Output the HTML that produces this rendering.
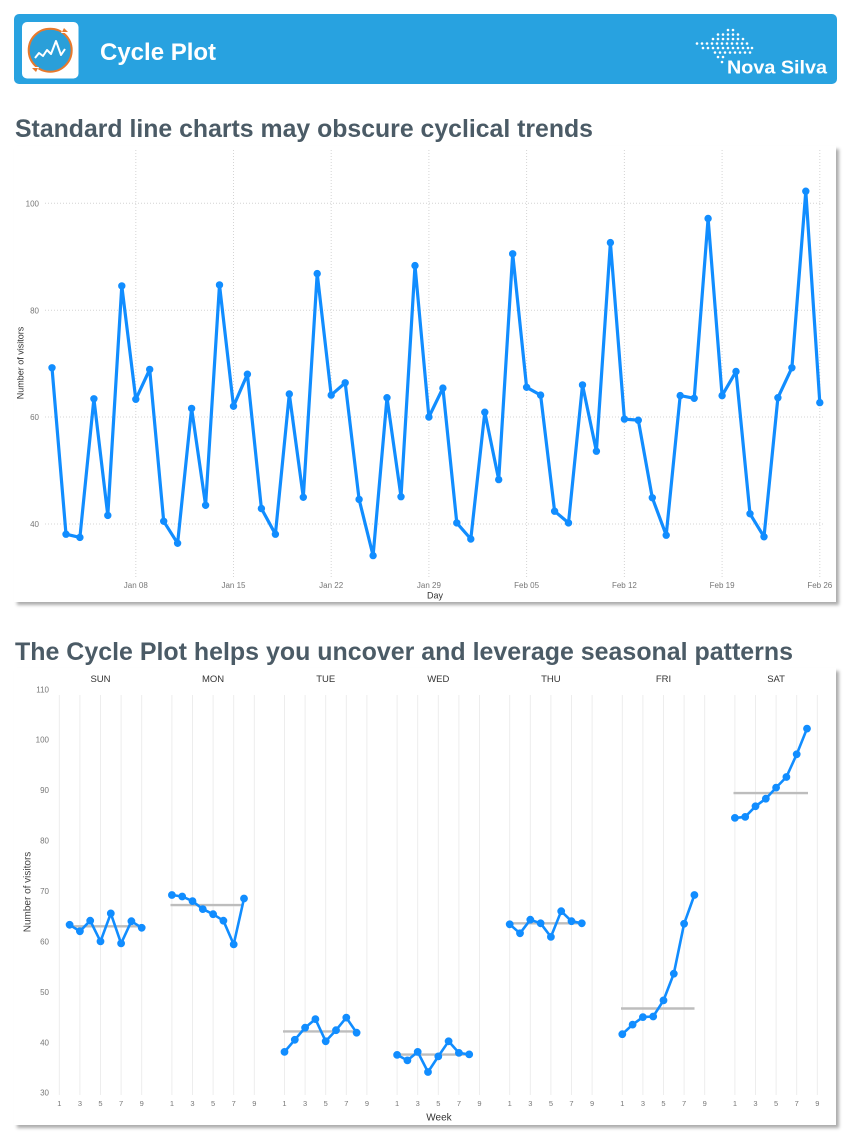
<!DOCTYPE html>
<html>
<head>
<meta charset="utf-8">
<style>
  html, body { margin: 0; padding: 0; background: #ffffff; }
  body { width: 852px; height: 1148px; overflow: hidden; }
  svg { display: block; }
  text { font-family: "Liberation Sans", "DejaVu Sans", sans-serif; }
</style>
</head>
<body>
<svg width="852" height="1148" viewBox="0 0 852 1148" xmlns="http://www.w3.org/2000/svg">
  <defs>
    <filter id="sh" x="-5%" y="-5%" width="110%" height="110%">
      <feDropShadow dx="3" dy="3" stdDeviation="1.5" flood-color="#000" flood-opacity="0.33"/>
    </filter>
  </defs>

  <!-- Header -->
  <rect x="14" y="14" width="823" height="70" rx="5" fill="#28a2e0"/>
  <rect x="22" y="22" width="56.5" height="56.5" rx="5" fill="#ffffff"/>
  <circle cx="50.2" cy="50.2" r="21.5" fill="#2a9fd9" stroke="#e8792c" stroke-width="2"/>
  <polyline points="35,58 39,53 43,56 47,50 51,54 56,41 61,55 65,49" fill="none" stroke="#ffffff" stroke-width="2" stroke-linejoin="round"/>
  <polygon points="64,26 69,33 61,33" fill="#ffffff"/>
  <polygon points="64,28 68,32 62,32" fill="#e8792c"/>
  <polygon points="36,74 31,67 39,67" fill="#ffffff"/>
  <polygon points="36,72 32,68 38,68" fill="#e8792c"/>
  <text x="100" y="60" font-size="24" font-weight="bold" fill="#ffffff">Cycle Plot</text>

  <!-- Nova Silva logo dots -->
  <g fill="#ffffff">
    <circle cx="728" cy="30" r="1.3"/><circle cx="733" cy="30" r="1.3"/>
    <circle cx="718" cy="34.5" r="1.3"/><circle cx="723" cy="34.5" r="1.3"/><circle cx="728" cy="34.5" r="1.3"/><circle cx="733" cy="34.5" r="1.3"/><circle cx="738" cy="34.5" r="1.3"/>
    <circle cx="713" cy="39" r="1.3"/><circle cx="718" cy="39" r="1.3"/><circle cx="723" cy="39" r="1.3"/><circle cx="728" cy="39" r="1.3"/><circle cx="733" cy="39" r="1.3"/><circle cx="738" cy="39" r="1.3"/><circle cx="743" cy="39" r="1.3"/>
    <circle cx="697" cy="43.5" r="1.3"/><circle cx="702" cy="43.5" r="1.3"/><circle cx="707" cy="43.5" r="1.3"/><circle cx="712" cy="43.5" r="1.3"/><circle cx="717" cy="43.5" r="1.3"/><circle cx="722" cy="43.5" r="1.3"/><circle cx="727" cy="43.5" r="1.3"/><circle cx="732" cy="43.5" r="1.3"/><circle cx="737" cy="43.5" r="1.3"/><circle cx="742" cy="43.5" r="1.3"/><circle cx="747" cy="43.5" r="1.3"/>
    <circle cx="703" cy="48" r="1.3"/><circle cx="708" cy="48" r="1.3"/><circle cx="713" cy="48" r="1.3"/><circle cx="718" cy="48" r="1.3"/><circle cx="723" cy="48" r="1.3"/><circle cx="728" cy="48" r="1.3"/><circle cx="733" cy="48" r="1.3"/><circle cx="738" cy="48" r="1.3"/><circle cx="743" cy="48" r="1.3"/><circle cx="748" cy="48" r="1.3"/><circle cx="752" cy="48" r="1.3"/>
    <circle cx="715" cy="52.5" r="1.3"/><circle cx="720" cy="52.5" r="1.3"/><circle cx="725" cy="52.5" r="1.3"/><circle cx="730" cy="52.5" r="1.3"/><circle cx="735" cy="52.5" r="1.3"/><circle cx="740" cy="52.5" r="1.3"/><circle cx="745" cy="52.5" r="1.3"/><circle cx="750" cy="52.5" r="1.3"/>
    <circle cx="718" cy="57" r="1.3"/><circle cx="723" cy="57" r="1.3"/>
    <circle cx="722" cy="62" r="1.3"/>
  </g>
  <text x="727" y="73.5" font-size="18" font-weight="bold" fill="#ffffff" textLength="100" lengthAdjust="spacingAndGlyphs">Nova Silva</text>

  <!-- Titles -->
  <text x="15" y="137" font-size="25" font-weight="bold" fill="#4b5b66" textLength="578" lengthAdjust="spacingAndGlyphs">Standard line charts may obscure cyclical trends</text>
  <text x="15" y="660" font-size="25" font-weight="bold" fill="#4b5b66" textLength="778" lengthAdjust="spacingAndGlyphs">The Cycle Plot helps you uncover and leverage seasonal patterns</text>

  <!-- Cards -->
  <rect x="14" y="146" width="822" height="456" fill="#ffffff" filter="url(#sh)"/>
  <rect x="14" y="668" width="822" height="457" fill="#ffffff" filter="url(#sh)"/>

  <!-- ===== Top chart ===== -->
  <g stroke="#d4d4d4" stroke-width="1" stroke-dasharray="1,2" fill="none">
    <line x1="45" y1="203.3" x2="823" y2="203.3"/>
    <line x1="45" y1="310.3" x2="823" y2="310.3"/>
    <line x1="45" y1="417" x2="823" y2="417"/>
    <line x1="45" y1="524" x2="823" y2="524"/>
    <line x1="135.8" y1="150" x2="135.8" y2="578"/>
    <line x1="233.5" y1="150" x2="233.5" y2="578"/>
    <line x1="331.2" y1="150" x2="331.2" y2="578"/>
    <line x1="428.9" y1="150" x2="428.9" y2="578"/>
    <line x1="526.6" y1="150" x2="526.6" y2="578"/>
    <line x1="624.4" y1="150" x2="624.4" y2="578"/>
    <line x1="722.1" y1="150" x2="722.1" y2="578"/>
    <line x1="819.8" y1="150" x2="819.8" y2="578"/>
  </g>
  <g font-size="8" fill="#777" text-anchor="end">
    <text x="39" y="206.3">100</text>
    <text x="39" y="313.3">80</text>
    <text x="39" y="420">60</text>
    <text x="39" y="527">40</text>
  </g>
  <g font-size="8" fill="#777" text-anchor="middle">
    <text x="135.8" y="588">Jan 08</text>
    <text x="233.5" y="588">Jan 15</text>
    <text x="331.2" y="588">Jan 22</text>
    <text x="428.9" y="588">Jan 29</text>
    <text x="526.6" y="588">Feb 05</text>
    <text x="624.4" y="588">Feb 12</text>
    <text x="722.1" y="588">Feb 19</text>
    <text x="819.8" y="588">Feb 26</text>
  </g>
  <text x="435" y="598.5" font-size="9" fill="#333" text-anchor="middle">Day</text>
  <text transform="translate(23.5,363) rotate(-90)" font-size="9" fill="#333" text-anchor="middle">Number of visitors</text>

  <polyline fill="none" stroke="#118dff" stroke-width="3.2" stroke-linejoin="round" points="52.0,367.8 66.0,534.2 79.9,537.4 93.9,398.8 107.8,515.4 121.8,285.9 135.8,399.3 149.7,369.4 163.7,521.3 177.6,543.3 191.6,408.4 205.6,505.3 219.5,284.9 233.5,406.3 247.4,374.2 261.4,508.5 275.4,534.2 289.3,394.0 303.3,497.3 317.2,273.6 331.2,395.1 345.2,382.8 359.1,499.4 373.1,555.6 387.0,397.7 401.0,496.7 415.0,265.6 428.9,417.0 442.9,388.1 456.8,522.9 470.8,539.0 484.8,412.2 498.7,479.6 512.7,253.8 526.6,387.3 540.6,395.1 554.6,511.2 568.5,522.9 582.5,384.9 596.4,451.2 610.4,242.6 624.4,419.1 638.3,420.2 652.3,497.8 666.2,535.2 680.2,395.6 694.2,398.3 708.1,218.5 722.1,395.6 736.0,371.5 750.0,513.8 764.0,536.8 777.9,397.7 791.9,367.8 805.8,191.2 819.8,402.6"/>
  <path fill="none" stroke="#118dff" stroke-width="7.4" stroke-linecap="round" d="M52.0,367.8h0M66.0,534.2h0M79.9,537.4h0M93.9,398.8h0M107.8,515.4h0M121.8,285.9h0M135.8,399.3h0M149.7,369.4h0M163.7,521.3h0M177.6,543.3h0M191.6,408.4h0M205.6,505.3h0M219.5,284.9h0M233.5,406.3h0M247.4,374.2h0M261.4,508.5h0M275.4,534.2h0M289.3,394.0h0M303.3,497.3h0M317.2,273.6h0M331.2,395.1h0M345.2,382.8h0M359.1,499.4h0M373.1,555.6h0M387.0,397.7h0M401.0,496.7h0M415.0,265.6h0M428.9,417.0h0M442.9,388.1h0M456.8,522.9h0M470.8,539.0h0M484.8,412.2h0M498.7,479.6h0M512.7,253.8h0M526.6,387.3h0M540.6,395.1h0M554.6,511.2h0M568.5,522.9h0M582.5,384.9h0M596.4,451.2h0M610.4,242.6h0M624.4,419.1h0M638.3,420.2h0M652.3,497.8h0M666.2,535.2h0M680.2,395.6h0M694.2,398.3h0M708.1,218.5h0M722.1,395.6h0M736.0,371.5h0M750.0,513.8h0M764.0,536.8h0M777.9,397.7h0M791.9,367.8h0M805.8,191.2h0M819.8,402.6h0"/>

  <!-- ===== Cycle plot ===== -->
  <g stroke="#ededed" stroke-width="1">
    <path d="M59.3,695V1095M79.9,695V1095M100.5,695V1095M121.1,695V1095M141.7,695V1095
             M171.9,695V1095M192.5,695V1095M213.1,695V1095M233.7,695V1095M254.3,695V1095
             M284.5,695V1095M305.1,695V1095M325.7,695V1095M346.3,695V1095M366.9,695V1095
             M397.1,695V1095M417.7,695V1095M438.3,695V1095M458.9,695V1095M479.5,695V1095
             M509.7,695V1095M530.3,695V1095M550.9,695V1095M571.5,695V1095M592.1,695V1095
             M622.3,695V1095M642.9,695V1095M663.5,695V1095M684.1,695V1095M704.7,695V1095
             M734.9,695V1095M755.5,695V1095M776.1,695V1095M796.7,695V1095M817.3,695V1095"/>
  </g>

  <g font-size="8" fill="#777" text-anchor="end">
    <text x="49" y="692.3">110</text>
    <text x="49" y="742.7">100</text>
    <text x="49" y="793.2">90</text>
    <text x="49" y="843.6">80</text>
    <text x="49" y="894">70</text>
    <text x="49" y="944.4">60</text>
    <text x="49" y="994.9">50</text>
    <text x="49" y="1045.3">40</text>
    <text x="49" y="1095.7">30</text>
  </g>
  <text transform="translate(30.5,892) rotate(-90)" font-size="10" fill="#444" text-anchor="middle">Number of visitors</text>

  <g font-size="9.5" fill="#333" text-anchor="middle">
    <text x="100.5" y="682">SUN</text>
    <text x="213.1" y="682">MON</text>
    <text x="325.7" y="682">TUE</text>
    <text x="438.3" y="682">WED</text>
    <text x="550.9" y="682">THU</text>
    <text x="663.5" y="682">FRI</text>
    <text x="776.1" y="682">SAT</text>
  </g>

  <g font-size="7.5" fill="#777" text-anchor="middle">
    <text x="59.3" y="1106">1</text><text x="79.9" y="1106">3</text><text x="100.5" y="1106">5</text><text x="121.1" y="1106">7</text><text x="141.7" y="1106">9</text>
    <text x="171.9" y="1106">1</text><text x="192.5" y="1106">3</text><text x="213.1" y="1106">5</text><text x="233.7" y="1106">7</text><text x="254.3" y="1106">9</text>
    <text x="284.5" y="1106">1</text><text x="305.1" y="1106">3</text><text x="325.7" y="1106">5</text><text x="346.3" y="1106">7</text><text x="366.9" y="1106">9</text>
    <text x="397.1" y="1106">1</text><text x="417.7" y="1106">3</text><text x="438.3" y="1106">5</text><text x="458.9" y="1106">7</text><text x="479.5" y="1106">9</text>
    <text x="509.7" y="1106">1</text><text x="530.3" y="1106">3</text><text x="550.9" y="1106">5</text><text x="571.5" y="1106">7</text><text x="592.1" y="1106">9</text>
    <text x="622.3" y="1106">1</text><text x="642.9" y="1106">3</text><text x="663.5" y="1106">5</text><text x="684.1" y="1106">7</text><text x="704.7" y="1106">9</text>
    <text x="734.9" y="1106">1</text><text x="755.5" y="1106">3</text><text x="776.1" y="1106">5</text><text x="796.7" y="1106">7</text><text x="817.3" y="1106">9</text>
  </g>
  <text x="439" y="1120.5" font-size="10" fill="#333" text-anchor="middle">Week</text>

  <!-- Median lines -->
  <g stroke="#bdbdbd" stroke-width="2.4">
    <line x1="68" y1="926.3" x2="139" y2="926.3"/>
    <line x1="170.5" y1="905.1" x2="243" y2="905.1"/>
    <line x1="283" y1="1031.4" x2="356" y2="1031.4"/>
    <line x1="396" y1="1054.6" x2="469" y2="1054.6"/>
    <line x1="508.5" y1="923.3" x2="581.5" y2="923.3"/>
    <line x1="621" y1="1008.5" x2="694.5" y2="1008.5"/>
    <line x1="733.5" y1="793.1" x2="808" y2="793.1"/>
  </g>

  <!-- Cycle series -->
  <g fill="none" stroke="#118dff" stroke-width="2.6" stroke-linejoin="round">
    <polyline points="69.6,924.8 79.9,931.3 90.2,920.7 100.5,941.4 110.8,913.4 121.1,943.4 131.4,921.2 141.7,927.8"/>
    <polyline points="171.9,895.0 182.2,896.5 192.5,901.1 202.8,909.1 213.1,914.2 223.4,920.7 233.7,944.4 244.0,898.5"/>
    <polyline points="284.5,1051.9 294.8,1039.8 305.1,1027.7 315.4,1019.1 325.7,1041.3 336.0,1030.2 346.3,1017.6 356.6,1032.7"/>
    <polyline points="397.1,1054.9 407.4,1060.4 417.7,1051.9 428.0,1072.0 438.3,1056.4 448.6,1041.3 458.9,1052.9 469.2,1054.4"/>
    <polyline points="509.7,924.3 520.0,933.3 530.3,919.7 540.6,923.3 550.9,936.9 561.2,911.2 571.5,921.2 581.8,923.3"/>
    <polyline points="622.3,1034.2 632.6,1024.6 642.9,1017.1 653.2,1016.5 663.5,1000.4 673.8,973.7 684.1,923.8 694.4,895.0"/>
    <polyline points="734.9,817.9 745.2,816.9 755.5,806.3 765.8,798.7 776.1,787.6 786.4,777.0 796.7,754.3 807.0,728.6"/>
  </g>
  <path fill="none" stroke="#118dff" stroke-width="7.8" stroke-linecap="round" d="
    M69.6,924.8h0M79.9,931.3h0M90.2,920.7h0M100.5,941.4h0M110.8,913.4h0M121.1,943.4h0M131.4,921.2h0M141.7,927.8h0
    M171.9,895.0h0M182.2,896.5h0M192.5,901.1h0M202.8,909.1h0M213.1,914.2h0M223.4,920.7h0M233.7,944.4h0M244.0,898.5h0
    M284.5,1051.9h0M294.8,1039.8h0M305.1,1027.7h0M315.4,1019.1h0M325.7,1041.3h0M336.0,1030.2h0M346.3,1017.6h0M356.6,1032.7h0
    M397.1,1054.9h0M407.4,1060.4h0M417.7,1051.9h0M428.0,1072.0h0M438.3,1056.4h0M448.6,1041.3h0M458.9,1052.9h0M469.2,1054.4h0
    M509.7,924.3h0M520.0,933.3h0M530.3,919.7h0M540.6,923.3h0M550.9,936.9h0M561.2,911.2h0M571.5,921.2h0M581.8,923.3h0
    M622.3,1034.2h0M632.6,1024.6h0M642.9,1017.1h0M653.2,1016.5h0M663.5,1000.4h0M673.8,973.7h0M684.1,923.8h0M694.4,895.0h0
    M734.9,817.9h0M745.2,816.9h0M755.5,806.3h0M765.8,798.7h0M776.1,787.6h0M786.4,777.0h0M796.7,754.3h0M807.0,728.6h0"/>
</svg>
</body>
</html>
